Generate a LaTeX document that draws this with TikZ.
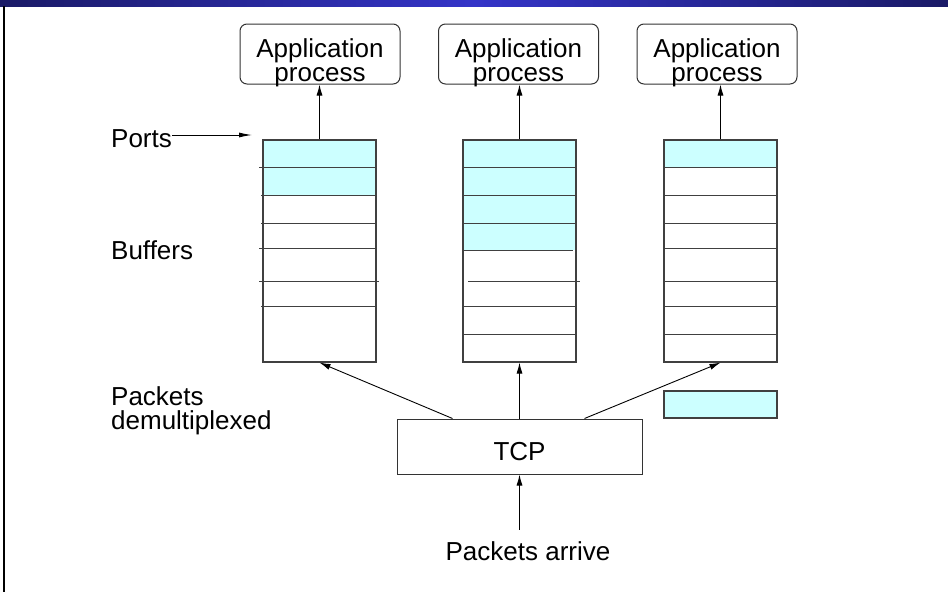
\documentclass[tikz,border=0pt]{standalone}
\usepackage{fontspec}
\setmainfont{Liberation Sans}
\usetikzlibrary{arrows.meta,calc,backgrounds}

\definecolor{bufcyan}{HTML}{CCFFFF}
\definecolor{barnavy}{HTML}{1A1A66}
\definecolor{barblue}{HTML}{3434C8}

\begin{document}
\begin{tikzpicture}[x=1pt,y=-1pt,
  font=\fontsize{26}{24}\selectfont,
  appbox/.style={draw=black!80, line width=1pt, rounded corners=7pt, minimum width=160pt, minimum height=60pt, inner sep=0pt},
  bufbox/.style={draw=black!75, line width=1.2pt, minimum width=113pt, minimum height=222pt, inner sep=0pt},
  sepline/.style={draw=black!75, line width=1.2pt},
  txt/.style={inner sep=0pt},
  arr/.style={-{Latex[length=11pt,width=6pt]}, line width=0.9pt}]
  \useasboundingbox (0,0) rectangle (948,592);

  % Draw the title bar and the left frame line
  \shade[left color=barnavy, right color=barnavy, middle color=barblue] (0,0) rectangle (948,6);
  \draw[line width=2.6pt] (4,6) -- (4,592);

  % Draw the application processes
  \foreach \i/\x in {1/320,2/518.5,3/717} {
    \node[appbox] (app\i) at (\x,54) {};
    \node[txt, align=center] (apptxt\i) at ([yshift=-8.5pt]app\i.center) {Application\\process};
  }

  % Draw the buffers
  \foreach \i/\x in {1/319.5,2/519.5,3/720.5}
    \node[bufbox] (buf\i) at (\x,251) {};

  % Fill the occupied buffers
  \begin{scope}[on background layer]
    \foreach \i/\h in {1/56,2/111,3/28}
      \fill[bufcyan] (buf\i.north west) rectangle ($(buf\i.north east)+(0,\h)$);
  \end{scope}

  % Draw the buffer separators
  \foreach \y/\l/\r in {28/-3/0, 56/-1/0, 84/-1/0, 109/-3/0, 142/-3/2, 167/-1/0}
    \draw[sepline] ($(buf1.north west)+(\l,\y)$) -- ($(buf1.north east)+(\r,\y)$);
  \foreach \y/\l/\r in {28/0/0, 56/0/0, 84/0/0, 111/0/-4, 142/6/3, 167/0/0, 195/0/0}
    \draw[sepline] ($(buf2.north west)+(\l,\y)$) -- ($(buf2.north east)+(\r,\y)$);
  \foreach \y/\l/\r in {28/2/0, 56/0/0, 84/0/0, 109/2/0, 142/2/0, 167/0/0, 195/0/0}
    \draw[sepline] ($(buf3.north west)+(\l,\y)$) -- ($(buf3.north east)+(\r,\y)$);

  % Draw the arrows up to the applications
  \foreach \i in {1,2,3}
    \draw[arr] (buf\i.north) -- (buf\i.north |- app\i.south);

  % Draw the waiting packet
  \node[bufbox, minimum height=27pt, fill=bufcyan] (waiting) at (720.5,404.5) {};

  % Draw TCP
  \node[draw=black!80, line width=1pt, minimum width=245pt, minimum height=55pt,
        text height=27pt, text depth=0pt, inner sep=0pt] (tcp) at (519.5,446.5) {TCP};

  % Draw the demultiplexing arrows
  \coordinate (tcpl) at ($(tcp.north west)+(56,0)$);
  \coordinate (tcpr) at ($(tcp.north west)+(188,0)$);
  \draw[arr] (tcpl) -- (buf1.south);
  \draw[arr] (tcp.north) -- (buf2.south);
  \draw[arr] (tcpr) -- (buf3.south);

  % Draw the incoming packets
  \node[txt, inner ysep=11pt, anchor=base] (arrive) at (528,560) {Packets arrive};
  \draw[arr] (arrive.north -| tcp.south) -- (tcp.south);

  % Draw the side labels
  \node[txt, anchor=base west] (ports) at (111,147) {Ports};
  \coordinate (portstip) at (252,135);
  \draw[-{Latex[length=13pt,width=5pt]}, line width=0.9pt] (ports.east |- portstip) -- (portstip);
  \node[txt, anchor=base west] (buffers) at (111,259) {Buffers};
  \node[txt, anchor=west, align=left, font=\fontsize{26}{23.5}\selectfont] (demux) at (111,411) {Packets\\demultiplexed};

\end{tikzpicture}
\end{document}
